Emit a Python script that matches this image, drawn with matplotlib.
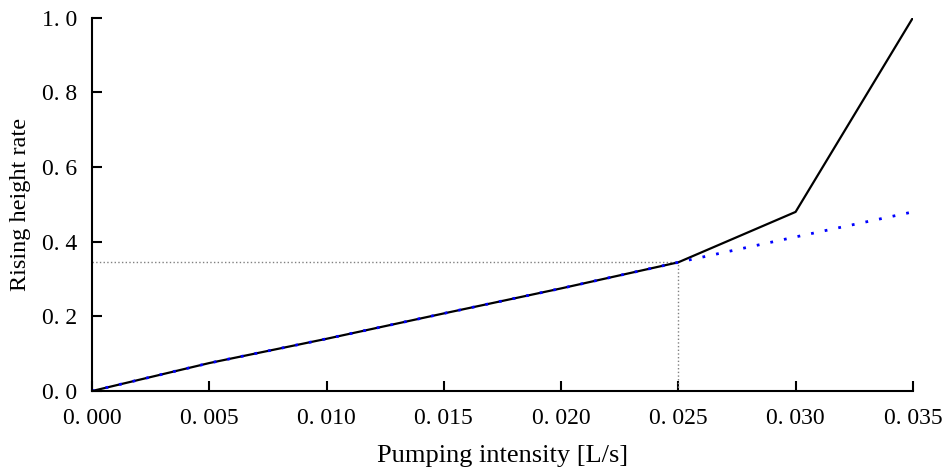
import matplotlib.pyplot as plt

# 数据
flow = [0.000, 0.005, 0.010, 0.015, 0.020, 0.025, 0.030, 0.035]
rate_measured = [0.0, 0.075, 0.140, 0.208, 0.275, 0.345, 0.480, 1.000]
rate_linear = [0.0, 0.075, 0.140, 0.208, 0.275, 0.345, 0.413, 0.480]
x_ticks = [0.000, 0.005, 0.010, 0.015, 0.020, 0.025, 0.030, 0.035]
y_ticks = [0.0, 0.2, 0.4, 0.6, 0.8, 1.0]
knee_x = 0.025
knee_y = 0.345

plt.rcParams['font.family'] = ['Liberation Serif', 'DejaVu Serif']

fig = plt.figure(figsize=(9.44, 4.70), dpi=100)
ax = fig.add_axes([0.0975, 0.168, 0.8695, 0.794])

# 参考虚线
ax.plot([0, knee_x], [knee_y, knee_y], color='gray', linestyle=':', linewidth=1)
ax.plot([knee_x, knee_x], [0, knee_y], color='gray', linestyle=':', linewidth=1)

# 线性趋势和实测曲线
ax.plot(flow, rate_measured, color='black', linewidth=1.6)
ax.plot(flow, rate_linear, color='blue', linestyle=(0, (1, 4)), linewidth=2)

ax.set_xlim(0, 0.035)
ax.set_ylim(0, 1.0)
ax.set_xticks(x_ticks)
ax.set_yticks(y_ticks)
ax.set_xticklabels(['0. ' + ('%.3f' % v)[2:] for v in x_ticks])
ax.set_yticklabels(['%s. %s' % tuple(('%.1f' % v).split('.')) for v in y_ticks])

for side in ['top', 'right']:
    ax.spines[side].set_visible(False)
for side in ['left', 'bottom']:
    ax.spines[side].set_linewidth(1.5)
ax.tick_params(direction='in', length=7, width=1.5, labelsize=17)
ax.tick_params(axis='x', pad=12)
ax.tick_params(axis='y', pad=10.5)

ax.set_xlabel('Pumping intensity [L/s]', fontsize=19, labelpad=12)
ax.set_ylabel('Rising height rate', fontsize=17.5, labelpad=8)

fig.savefig('out.png', dpi=100)
